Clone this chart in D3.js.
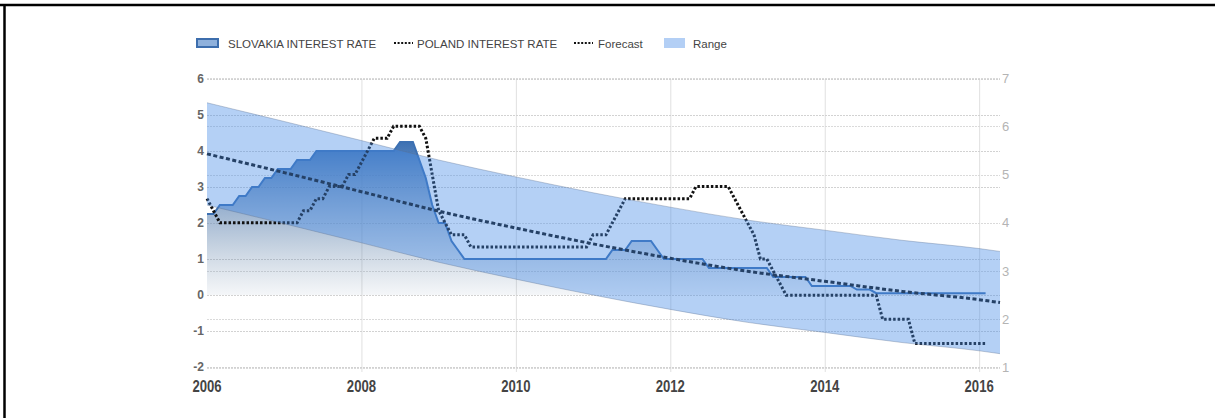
<!DOCTYPE html>
<html><head><meta charset="utf-8">
<script src="https://cdn.jsdelivr.net/npm/d3@7"></script>
<style>body{margin:0;background:#fff}svg{display:block}</style>
</head><body>
<svg id="chart" width="1215" height="418"></svg>
<script>
// ---------- data (monthly, first point = Jan 2006) ----------
const startYear = 2006;
const slovakiaRate = [
  2.25,2.25,2.5,2.5,2.5,2.75,2.75,3.0,3.0,3.25,3.25,3.5,
  3.5,3.5,3.75,3.75,3.75,4.0,4.0,4.0,4.0,4.0,4.0,4.0,
  4.0,4.0,4.0,4.0,4.0,4.0,4.25,4.25,4.25,3.75,3.25,2.5,
  2.0,2.0,1.5,1.25,1.0,1.0,1.0,1.0,1.0,1.0,1.0,1.0,
  1.0,1.0,1.0,1.0,1.0,1.0,1.0,1.0,1.0,1.0,1.0,1.0,
  1.0,1.0,1.0,1.25,1.25,1.25,1.5,1.5,1.5,1.5,1.25,1.0,
  1.0,1.0,1.0,1.0,1.0,1.0,0.75,0.75,0.75,0.75,0.75,0.75,
  0.75,0.75,0.75,0.75,0.5,0.5,0.5,0.5,0.5,0.5,0.25,0.25,
  0.25,0.25,0.25,0.25,0.25,0.15,0.15,0.15,0.05,0.05,0.05,0.05,
  0.05,0.05,0.05,0.05,0.05,0.05,0.05,0.05,0.05,0.05,0.05,0.05,
  0.05,0.05
];
const polandRate = [
  4.5,4.25,4.0,4.0,4.0,4.0,4.0,4.0,4.0,4.0,4.0,4.0,
  4.0,4.0,4.0,4.25,4.25,4.5,4.5,4.75,4.75,4.75,5.0,5.0,
  5.25,5.5,5.75,5.75,5.75,6.0,6.0,6.0,6.0,6.0,5.75,5.0,
  4.25,4.0,3.75,3.75,3.75,3.5,3.5,3.5,3.5,3.5,3.5,3.5,
  3.5,3.5,3.5,3.5,3.5,3.5,3.5,3.5,3.5,3.5,3.5,3.5,
  3.75,3.75,3.75,4.0,4.25,4.5,4.5,4.5,4.5,4.5,4.5,4.5,
  4.5,4.5,4.5,4.5,4.75,4.75,4.75,4.75,4.75,4.75,4.5,4.25,
  4.0,3.75,3.25,3.25,3.0,2.75,2.5,2.5,2.5,2.5,2.5,2.5,
  2.5,2.5,2.5,2.5,2.5,2.5,2.5,2.5,2.5,2.0,2.0,2.0,
  2.0,2.0,1.5,1.5,1.5,1.5,1.5,1.5,1.5,1.5,1.5,1.5,
  1.5,1.5
];
const forecastYears = [2006,2007,2008,2009,2010,2011,2012,2013,2014,2015,2016,2016.27];
const forecastValues = [3.92,3.4,2.87,2.33,1.86,1.42,1.02,0.66,0.38,0.1,-0.13,-0.21];
const rangeHigh = [5.34,4.82,4.29,3.75,3.28,2.84,2.44,2.08,1.80,1.52,1.29,1.21];
const rangeLow  = [2.50,1.98,1.45,0.91,0.44,0.00,-0.40,-0.76,-1.04,-1.32,-1.55,-1.63];
const leftTicks = [-2,-1,0,1,2,3,4,5,6];
const rightTicks = [1,2,3,4,5,6,7];
const xTicks = [2006,2008,2010,2012,2014,2016];
const gridYears = [2008,2010,2012,2014,2016];
const legendLabels = ["SLOVAKIA INTEREST RATE","POLAND INTEREST RATE","Forecast","Range"];

// ---------- drawing ----------
const svg = d3.select("#chart");
const x = d3.scaleLinear().domain([2006, 2016.27]).range([207, 1000]);
const yL = d3.scaleLinear().domain([-2, 6]).range([367, 79]);
const yR = d3.scaleLinear().domain([1, 7]).range([367.5, 78]);

const slk = slovakiaRate.map((v,i)=>({t:startYear+i/12, v}));
const pol = polandRate.map((v,i)=>({t:startYear+i/12, v}));
const fc = forecastYears.map((t,i)=>({t, v:forecastValues[i], hi:rangeHigh[i], lo:rangeLow[i]}));

// frame
svg.append("line").attr("x1",0).attr("x2",1215).attr("y1",5).attr("y2",5).attr("stroke","#000").attr("stroke-width",2.5);
svg.append("line").attr("x1",4.5).attr("x2",4.5).attr("y1",4).attr("y2",418).attr("stroke","#000").attr("stroke-width",2.5);

const defs = svg.append("defs");
const g1 = defs.append("linearGradient").attr("id","slkGrad").attr("gradientUnits","userSpaceOnUse")
  .attr("x1",0).attr("x2",0).attr("y1",yL(4.3)).attr("y2",yL(-0.35));
g1.append("stop").attr("offset",0).attr("stop-color","#3a6fb3").attr("stop-opacity",1);
g1.append("stop").attr("offset",1).attr("stop-color","#7890a8").attr("stop-opacity",0);

// grid
const grid = svg.append("g");
grid.selectAll(".vg").data(gridYears).join("line")
  .attr("x1",d=>x(d)+0.5).attr("x2",d=>x(d)+0.5).attr("y1",79).attr("y2",372)
  .attr("stroke","#e0e0e0").attr("stroke-width",1);
grid.selectAll(".hl").data(leftTicks).join("line")
  .attr("x1",207).attr("x2",1000).attr("y1",d=>Math.round(yL(d))+0.5).attr("y2",d=>Math.round(yL(d))+0.5)
  .attr("stroke","#d2d2d2").attr("stroke-width",1).attr("stroke-dasharray","2,1");
grid.selectAll(".hr").data(rightTicks).join("line")
  .attr("x1",207).attr("x2",1000).attr("y1",d=>Math.round(yR(d))+0.5).attr("y2",d=>Math.round(yR(d))+0.5)
  .attr("stroke","#dadada").attr("stroke-width",1).attr("stroke-dasharray","2,1");

// axes labels
const font = "'Liberation Sans', Arial, sans-serif";
svg.append("g").selectAll("text").data(leftTicks).join("text")
  .attr("x",204).attr("y",d=>yL(d)).attr("dy","0.35em").attr("text-anchor","end")
  .attr("font-family",font).attr("font-size",12).attr("font-weight","bold").attr("fill","#666")
  .text(d=>d);
svg.append("g").selectAll("text").data(rightTicks).join("text")
  .attr("x",1002).attr("y",d=>yR(d)).attr("dy","0.35em").attr("text-anchor","start")
  .attr("font-family",font).attr("font-size",13).attr("fill","#b4b4b4")
  .text(d=>d);
svg.append("g").selectAll("text").data(xTicks).join("text")
  .attr("transform",d=>`translate(${x(d)},386) scale(0.82,1)`).attr("dy","0.35em").attr("text-anchor","middle")
  .attr("font-family",font)
  .attr("font-size",16).attr("font-weight","bold").attr("fill","#444")
  .text(d=>d);

// Slovakia area + line
svg.append("path").datum(slk)
  .attr("d", d3.area().x(d=>x(d.t)).y0(yL(0)).y1(d=>yL(d.v)))
  .attr("fill","url(#slkGrad)");
svg.append("path").datum(slk)
  .attr("d", d3.line().x(d=>x(d.t)).y(d=>yL(d.v)))
  .attr("fill","none").attr("stroke","#3c70b2").attr("stroke-width",2);

// Poland (right axis)
svg.append("path").datum(pol)
  .attr("d", d3.line().x(d=>x(d.t)).y(d=>yR(d.v)))
  .attr("fill","none").attr("stroke","#111").attr("stroke-width",3).attr("stroke-dasharray","2.5,2");

// Forecast
svg.append("path").datum(fc)
  .attr("d", d3.line().curve(d3.curveMonotoneX).x(d=>x(d.t)).y(d=>yL(d.v)))
  .attr("fill","none").attr("stroke","#111").attr("stroke-width",3).attr("stroke-dasharray","4,2.5");

// Range band (on top, translucent)
svg.append("path").datum(fc)
  .attr("d", d3.area().curve(d3.curveMonotoneX).x(d=>x(d.t)).y0(d=>yL(d.lo)).y1(d=>yL(d.hi)))
  .attr("fill","rgb(67,137,230)").attr("fill-opacity",0.4);
["hi","lo"].forEach(k=>{
  svg.append("path").datum(fc)
    .attr("d", d3.line().curve(d3.curveMonotoneX).x(d=>x(d.t)).y(d=>yL(d[k])))
    .attr("fill","none").attr("stroke","rgba(90,110,140,0.35)").attr("stroke-width",1);
});

// legend
const lg = svg.append("g").attr("font-family",font).attr("font-size",11.5).attr("fill","#444");
lg.append("rect").attr("x",197).attr("y",39).attr("width",21).attr("height",8)
  .attr("fill","#8fb1dc").attr("stroke","#3d6ead").attr("stroke-width",2);
lg.append("text").attr("x",228).attr("y",44).attr("dy","0.35em").text(legendLabels[0]);
lg.append("line").attr("x1",394).attr("x2",413).attr("y1",43).attr("y2",43)
  .attr("stroke","#111").attr("stroke-width",2).attr("stroke-dasharray","2,1.6");
lg.append("text").attr("x",417).attr("y",44).attr("dy","0.35em").text(legendLabels[1]);
lg.append("line").attr("x1",574).attr("x2",593).attr("y1",43).attr("y2",43)
  .attr("stroke","#111").attr("stroke-width",2).attr("stroke-dasharray","2,1.6");
lg.append("text").attr("x",598).attr("y",44).attr("dy","0.35em").text(legendLabels[2]);
lg.append("rect").attr("x",664).attr("y",38).attr("width",21).attr("height",10)
  .attr("fill","#b3cff5");
lg.append("text").attr("x",693).attr("y",44).attr("dy","0.35em").text(legendLabels[3]);
</script>
</body></html>
